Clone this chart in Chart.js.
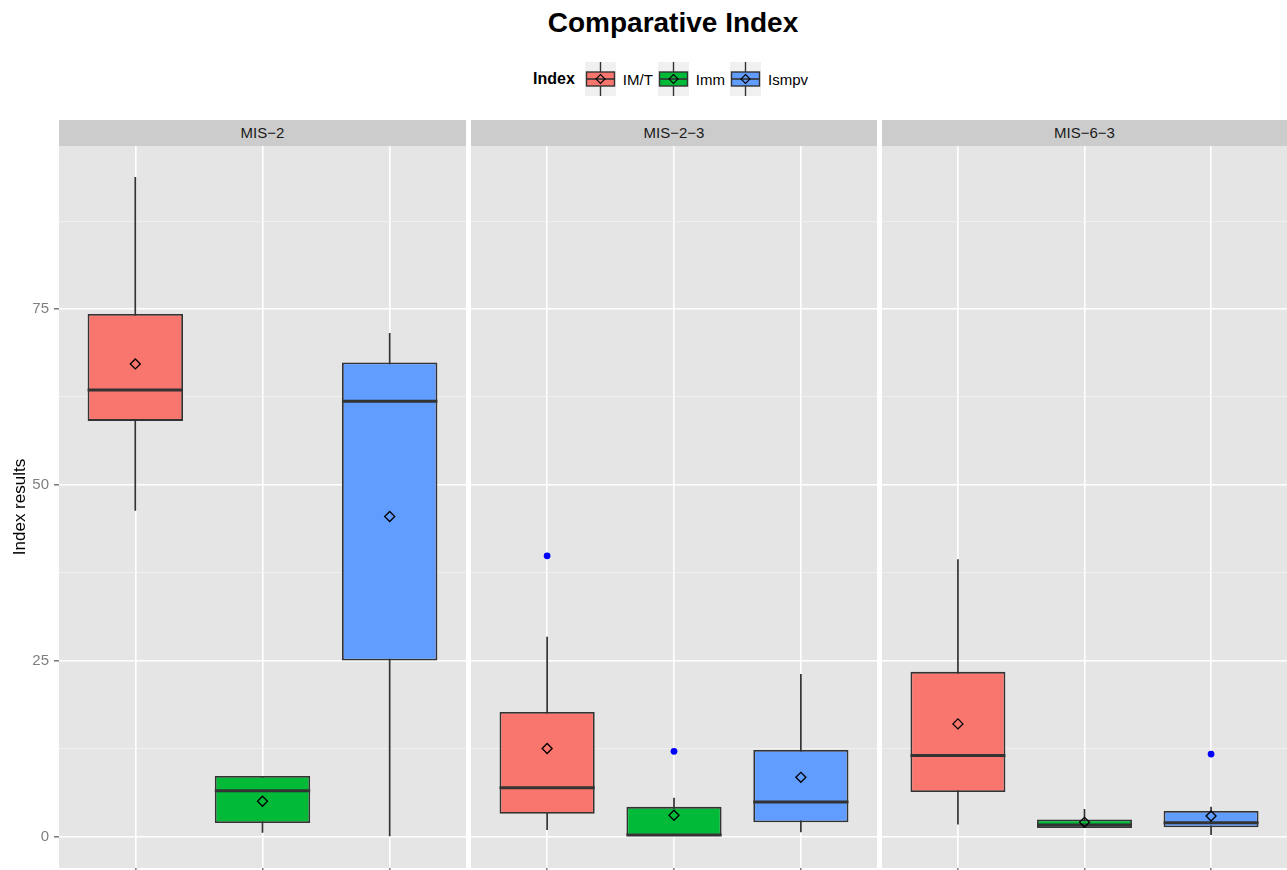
<!DOCTYPE html>
<html>
<head>
<meta charset="utf-8">
<script src="https://cdn.jsdelivr.net/npm/chart.js@4/dist/chart.umd.min.js"></script>
<style>
  html, body { margin: 0; padding: 0; background: #fff; width: 1287px; height: 870px; overflow: hidden; font-family: "Liberation Sans", Arial, sans-serif; }
  #title { position: absolute; left: 59px; width: 1228px; top: 7px; text-align: center; font-size: 28px; font-weight: bold; color: #000; }
  #legend { position: absolute; left: 59px; width: 1228px; top: 62px; display: flex; justify-content: center; align-items: center; font-size: 15px; color: #000; }
  #legend .head { font-weight: bold; font-size: 16px; margin-right: 10px; }
  #legend svg { display: block; }
  #legend .lab { margin: 0 5px 0 7px; }
  .strip { position: absolute; top: 120px; height: 26px; line-height: 26px; background: #cccccc; text-align: center; font-size: 15px; color: #1a1a1a; }
  .panel { position: absolute; top: 146px; height: 727px; }
</style>
</head>
<body>
<div id="title">Comparative Index</div>
<div id="legend"></div>
<div id="wrap"></div>
<script>
// facets and groups
const panels = ['MIS\u22122', 'MIS\u22122\u22123', 'MIS\u22126\u22123'];
const indexNames = ['IM/T', 'Imm', 'Ismpv'];
const fillColors = ['#F8766D', '#00BA38', '#619CFF'];

// box stats, one row per panel, one value per index
const whiskerLow  = [[46.3, 0.5, 0.0], [0.9, 0.1, 0.6], [1.7, 1.2, 0.2]];
const q1          = [[59.1, 1.9, 25.0], [3.2, 0.1, 2.0], [6.3, 1.2, 1.3]];
const medians     = [[63.5, 6.5, 61.9], [6.9, 0.2, 4.9], [11.5, 1.6, 1.95]];
const q3          = [[74.3, 8.6, 67.4], [17.7, 4.2, 12.3], [23.4, 2.4, 3.6]];
const whiskerHigh = [[93.8, 8.6, 71.6], [28.4, 5.5, 23.1], [39.4, 3.9, 4.2]];
const means       = [[67.2, 5.0, 45.5], [12.5, 3.0, 8.4], [16.0, 2.0, 2.9]];
const outliers    = [[[], [], []], [[39.9], [12.1], []], [[], [], [11.7]]];

const yTicks = [0, 25, 50, 75];
const yMin = -4.5, yMax = 98.2;

// legend (html + svg keys)
const legend = document.getElementById('legend');
legend.innerHTML = '<span class="head">Index</span>' + indexNames.map((n, i) => `
  <svg width="31" height="34"><rect width="31" height="34" fill="#f0f0f0"/>
  <line x1="15.5" y1="0" x2="15.5" y2="34" stroke="#333" stroke-width="1.4"/>
  <rect x="1.5" y="10" width="28" height="14" fill="${fillColors[i]}" stroke="#333" stroke-width="1.4"/>
  <line x1="1.5" y1="17" x2="29.5" y2="17" stroke="#333" stroke-width="1.6"/>
  <path d="M15.5 12.5 L20 17 L15.5 21.5 L11 17 Z" fill="none" stroke="#000" stroke-width="1.1"/></svg>
  <span class="lab">${n}</span>`).join('');

// panel geometry (plot area left/right edges)
const panelLeft = [59, 471, 882];
const panelRight = [466, 877, 1287];

const panelBg = {
  id: 'panelBg',
  beforeDraw(chart) {
    const a = chart.chartArea;
    const ctx = chart.ctx;
    ctx.save();
    ctx.fillStyle = '#E5E5E5';
    ctx.fillRect(a.left, a.top, a.right - a.left, a.bottom - a.top);
    ctx.restore();
  }
};

const medianLines = {
  id: 'medianLines',
  afterDatasetDraw(chart, args) {
    const ds = chart.data.datasets[args.index];
    if (ds.role !== 'box') return;
    const ctx = chart.ctx;
    const y = chart.scales.y;
    ctx.save();
    ctx.strokeStyle = '#333333';
    ctx.lineWidth = 3;
    args.meta.data.forEach((el, i) => {
      const py = y.getPixelForValue(ds.medians[i]);
      ctx.beginPath();
      ctx.moveTo(el.x - el.width / 2, py);
      ctx.lineTo(el.x + el.width / 2, py);
      ctx.stroke();
    });
    ctx.restore();
  }
};

const wrap = document.getElementById('wrap');
panels.forEach((name, p) => {
  const first = p === 0;
  const strip = document.createElement('div');
  strip.className = 'strip';
  strip.style.left = panelLeft[p] + 'px';
  strip.style.width = (panelRight[p] - panelLeft[p]) + 'px';
  strip.textContent = name;
  wrap.appendChild(strip);

  const box = document.createElement('div');
  box.className = 'panel';
  const left = first ? 0 : panelLeft[p];
  box.style.left = left + 'px';
  box.style.width = (panelRight[p] - left) + 'px';
  const canvas = document.createElement('canvas');
  box.appendChild(canvas);
  wrap.appendChild(box);

  // whisker segments, broken with null between groups
  const whiskers = [];
  indexNames.forEach((n, i) => {
    whiskers.push({x: i + 1, y: whiskerLow[p][i]}, {x: i + 1, y: whiskerHigh[p][i]}, {x: i + 1.5, y: null});
  });
  const outPts = [];
  outliers[p].forEach((arr, i) => arr.forEach(v => outPts.push({x: i + 1, y: v})));

  new Chart(canvas.getContext('2d'), {
    type: 'bar',
    data: {
      datasets: [
        {
          type: 'line', data: whiskers, borderColor: '#333333', borderWidth: 1.7,
          pointRadius: 0, spanGaps: false, order: 5
        },
        {
          role: 'box', medians: medians[p],
          data: indexNames.map((n, i) => ({x: i + 1, y: [q1[p][i], q3[p][i]]})),
          backgroundColor: fillColors, borderColor: '#333333', borderWidth: 1.8,
          borderSkipped: false, barPercentage: 0.75, categoryPercentage: 1, grouped: false, order: 4
        },
        {
          type: 'scatter', data: indexNames.map((n, i) => ({x: i + 1, y: means[p][i]})),
          pointStyle: 'rectRot', pointRadius: 5, backgroundColor: 'rgba(0,0,0,0)',
          borderColor: '#000', pointBorderWidth: 1.3, order: 1
        },
        {
          type: 'scatter', data: outPts, pointStyle: 'circle', pointRadius: 3.4,
          backgroundColor: '#0000FF', borderColor: '#0000FF', pointBorderWidth: 0, order: 0
        }
      ]
    },
    options: {
      responsive: true,
      maintainAspectRatio: false,
      animation: false,
      layout: { padding: 0, autoPadding: false },
      plugins: { legend: { display: false }, tooltip: { enabled: false } },
      scales: {
        x: {
          type: 'linear', min: 0.4, max: 3.6, offset: false,
          ticks: { stepSize: 1, includeBounds: false, display: false },
          grid: { color: '#ffffff', lineWidth: 1.6, offset: false, drawTicks: true, tickLength: 5, tickColor: '#7f7f7f' },
          border: { display: false },
          afterFit(s) { s.height = 5; s.paddingLeft = 0; s.paddingRight = 0; }
        },
        y: {
          min: yMin, max: yMax,
          ticks: {
            display: first, stepSize: 12.5, includeBounds: false, padding: 5,
            color: '#7f7f7f', font: { family: '"Liberation Sans", Arial', size: 15 },
            callback: v => yTicks.includes(v) ? String(v) : ''
          },
          grid: {
            color: c => yTicks.includes(c.tick.value) ? '#ffffff' : '#F2F2F2',
            lineWidth: c => yTicks.includes(c.tick.value) ? 1.6 : 0.8,
            tickColor: c => yTicks.includes(c.tick.value) ? '#7f7f7f' : 'rgba(0,0,0,0)',
            drawTicks: first, tickLength: 5
          },
          border: { display: false },
          title: {
            display: first, text: 'Index results', color: '#000',
            font: { family: '"Liberation Sans", Arial', size: 17 }, padding: { top: 10, bottom: 0 }
          },
          afterFit(s) { s.width = first ? 59 : 0; s.paddingTop = 0; s.paddingBottom = 0; }
        }
      }
    },
    plugins: [panelBg, medianLines]
  });
});
</script>
</body>
</html>
